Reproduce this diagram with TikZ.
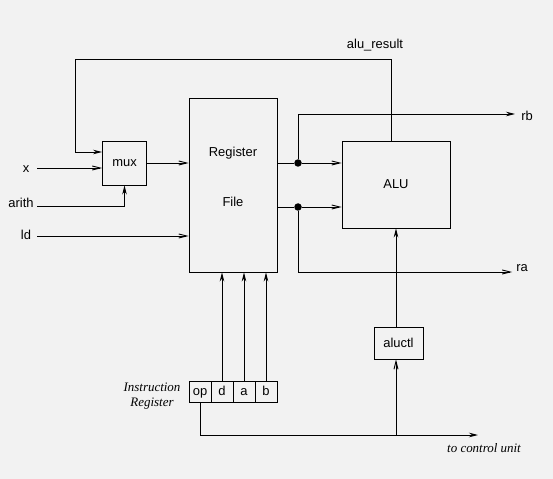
\documentclass[tikz,border=0pt]{standalone}
\usepackage{fontspec}
\setmainfont{Liberation Sans}
\newfontfamily\serifit{Liberation Serif}
\usetikzlibrary{arrows.meta,calc}
\definecolor{bg}{RGB}{242,242,242}
\tikzset{
  box/.style={draw,line width=0.9bp,inner sep=0pt,font=\fontsize{13}{15}\selectfont},
  cell/.style={box,minimum width=22bp,minimum height=21bp,text height=9.5bp,text depth=2.5bp},
  lbl/.style={inner sep=0pt,font=\fontsize{13}{15}\selectfont},
  itl/.style={inner sep=0pt,font=\fontsize{13}{15}\selectfont\serifit\itshape},
  wire/.style={line width=0.9bp},
  fa/.style={wire,-{Stealth[length=9bp,width=4.5bp]}},
  ta/.style={wire,-{Straight Barb[length=8bp,width=4bp]}},
  dot/.style={circle,fill=black,inner sep=0pt,minimum size=7.5bp}
}
\begin{document}
\begin{tikzpicture}[x=1bp,y=-1bp]
\fill[bg] (0,0) rectangle (553,479);
\useasboundingbox (0,0) rectangle (553,479);
% boxes
\node[box,minimum width=44bp,minimum height=44bp] (mux) at (124.5,163) {mux};
\node[box,minimum width=88bp,minimum height=174bp] (rf) at (233,185) {};
\node[lbl] (rfa) at (233,153) {Register};
\node[lbl] (rfb) at (233,202) {File};
\node[box,minimum width=108bp,minimum height=87bp] (alu) at (396,184.5) {ALU};
\node[box,minimum width=49bp,minimum height=32bp] (aluctl) at (398.5,343) {aluctl};
\node[cell] (op) at (200,391.5) {op};
\node[cell] (d) at (222,391.5) {d};
\node[cell] (a) at (244,391.5) {a};
\node[cell] (b) at (266,391.5) {b};
% labels
\node[lbl] (lx) at (26,169) {x};
\node[lbl] (larith) at (21,203) {arith};
\node[lbl] (lld) at (26,235) {ld};
\node[lbl] (lres) at (375,45) {alu\_result};
\node[lbl] (lrb) at (527,116) {rb};
\node[lbl] (lra) at (522,268) {ra};
\node[itl,align=center] (lir) at (152,396) {Instruction\\Register};
\node[itl] (lcu) at (484,448) {to control unit};
% coordinates
\coordinate (xs) at (37,168);
\coordinate (as) at (37,206);
\coordinate (ls) at (37,236);
\coordinate (r1) at (391,59);
\coordinate (r2) at (75,59);
\coordinate (r3) at (75,152);
\node[dot] (dt) at (298,163) {};
\node[dot] (db) at (298,207) {};
\coordinate (rb1) at (298,114);
\coordinate (rb2) at (515,114);
\coordinate (ra1) at (298,272);
\coordinate (ra2) at (512,272);
\coordinate (c1) at (200,435);
\coordinate (c2) at (478,435);
\coordinate (cj) at (396,435);
% wires
\draw[ta] (xs) -- (mux.west |- xs);
\draw[fa] (as) -| (mux.south);
\draw[ta] (ls) -- (rf.west |- ls);
\draw[ta] (mux.east) -- (rf.west |- mux.east);
\draw[fa] (alu.north -| r1) -- (r1) -- (r2) -- (r3) -- (mux.west |- r3);
\draw[wire] (rf.east |- dt) -- (dt);
\draw[ta] (dt) -- (alu.west |- dt);
\draw[wire] (rf.east |- db) -- (db);
\draw[ta] (db) -- (alu.west |- db);
\draw[fa] (dt) -- (rb1) -- (rb2);
\draw[ta] (db) -- (ra1) -- (ra2);
\draw[fa] (d.north) -- (rf.south -| d.north);
\draw[fa] (a.north) -- (rf.south -| a.north);
\draw[fa] (b.north) -- (rf.south -| b.north);
\draw[fa] (op.south) -- (c1) -- (c2);
\draw[ta] (cj) -- (aluctl.south -| cj);
\draw[fa] (aluctl.north -| cj) -- (alu.south -| cj);
\end{tikzpicture}
\end{document}
